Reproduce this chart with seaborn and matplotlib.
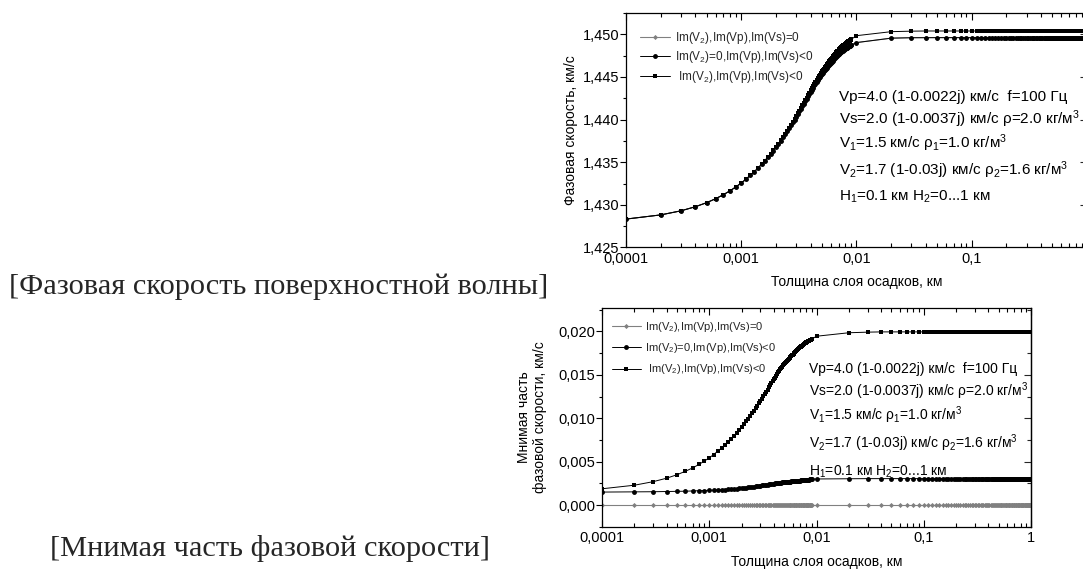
import numpy as np
import matplotlib
matplotlib.use("Agg")
from matplotlib import pyplot as plt
from matplotlib.ticker import FixedLocator, LogLocator, MultipleLocator, NullFormatter
import seaborn as sns

sns.set_style("ticks")
plt.rcParams['font.family'] = ['Liberation Sans', 'DejaVu Sans']
plt.rcParams['mathtext.fontset'] = 'custom'
plt.rcParams['mathtext.rm'] = 'Liberation Sans'
plt.rcParams['mathtext.it'] = 'Liberation Sans:italic'
plt.rcParams['mathtext.default'] = 'regular'
plt.rcParams['axes.edgecolor'] = 'black'
plt.rcParams['axes.linewidth'] = 0.9

# sediment layer thickness, km: fine grid 0.0001..0.009, coarse grid 0.01..1
thickness_fine = np.arange(1, 91) * 1e-4
thickness_coarse = np.arange(1, 101) * 1e-2
thickness = np.concatenate([thickness_fine, thickness_coarse])

# phase velocity, km/s -- Im(V2)=0, Im(Vp),Im(Vs)<0
re_v2_elastic = [
    1.42833, 1.42882, 1.42930, 1.42978, 1.43025, 1.43072, 1.43119, 1.43165, 1.43211, 1.43256,
    1.43301, 1.43346, 1.43389, 1.43432, 1.43474, 1.43516, 1.43557, 1.43597, 1.43637, 1.43676,
    1.43715, 1.43753, 1.43790, 1.43826, 1.43862, 1.43898, 1.43933, 1.43967, 1.44000, 1.44033,
    1.44065, 1.44096, 1.44127, 1.44158, 1.44188, 1.44217, 1.44245, 1.44273, 1.44300, 1.44327,
    1.44352, 1.44376, 1.44400, 1.44422, 1.44443, 1.44463, 1.44482, 1.44500, 1.44518, 1.44534,
    1.44549, 1.44564, 1.44578, 1.44591, 1.44604, 1.44617, 1.44630, 1.44642, 1.44653, 1.44664,
    1.44676, 1.44688, 1.44699, 1.44710, 1.44720, 1.44730, 1.44740, 1.44749, 1.44758, 1.44766,
    1.44774, 1.44781, 1.44789, 1.44795, 1.44802, 1.44808, 1.44814, 1.44820, 1.44825, 1.44830,
    1.44835, 1.44840, 1.44845, 1.44849, 1.44854, 1.44858, 1.44862, 1.44867, 1.44871, 1.44875,
] + [1.44903, 1.44955, 1.44960] + [1.44961] * 97

# phase velocity, km/s -- Im(V2),Im(Vp),Im(Vs)<0
re_all_lossy = [
    1.42833, 1.42882, 1.42930, 1.42978, 1.43025, 1.43072, 1.43119, 1.43165, 1.43211, 1.43256,
    1.43301, 1.43346, 1.43389, 1.43432, 1.43475, 1.43517, 1.43558, 1.43598, 1.43638, 1.43678,
    1.43717, 1.43755, 1.43793, 1.43829, 1.43866, 1.43902, 1.43938, 1.43973, 1.44006, 1.44040,
    1.44073, 1.44104, 1.44136, 1.44168, 1.44199, 1.44229, 1.44258, 1.44287, 1.44316, 1.44344,
    1.44370, 1.44395, 1.44421, 1.44444, 1.44466, 1.44488, 1.44508, 1.44527, 1.44547, 1.44564,
    1.44580, 1.44597, 1.44612, 1.44626, 1.44641, 1.44655, 1.44669, 1.44682, 1.44695, 1.44707,
    1.44720, 1.44733, 1.44745, 1.44757, 1.44768, 1.44779, 1.44790, 1.44800, 1.44810, 1.44819,
    1.44828, 1.44836, 1.44845, 1.44852, 1.44859, 1.44866, 1.44873, 1.44879, 1.44885, 1.44891,
    1.44896, 1.44902, 1.44907, 1.44912, 1.44918, 1.44922, 1.44927, 1.44932, 1.44937, 1.44941,
] + [1.44984, 1.45031, 1.45037] + [1.45039] * 97

# all Im = 0: real part lies under the Im(V2)=0 curve
re_elastic = list(re_v2_elastic)

# imaginary part of phase velocity, km/s
im_all_lossy = [
    0.00187, 0.00228, 0.00269, 0.00309, 0.00349, 0.00389, 0.00428, 0.00467, 0.00506, 0.00544,
    0.00582, 0.00620, 0.00656, 0.00693, 0.00728, 0.00763, 0.00798, 0.00832, 0.00866, 0.00899,
    0.00931, 0.00963, 0.00994, 0.01025, 0.01056, 0.01086, 0.01115, 0.01144, 0.01172, 0.01200,
    0.01227, 0.01253, 0.01279, 0.01305, 0.01331, 0.01355, 0.01378, 0.01402, 0.01425, 0.01448,
    0.01469, 0.01489, 0.01509, 0.01528, 0.01546, 0.01563, 0.01579, 0.01594, 0.01609, 0.01623,
    0.01635, 0.01648, 0.01660, 0.01671, 0.01682, 0.01693, 0.01703, 0.01714, 0.01723, 0.01732,
    0.01743, 0.01753, 0.01762, 0.01771, 0.01780, 0.01788, 0.01796, 0.01804, 0.01811, 0.01818,
    0.01825, 0.01831, 0.01837, 0.01843, 0.01849, 0.01854, 0.01859, 0.01864, 0.01868, 0.01873,
    0.01877, 0.01881, 0.01885, 0.01889, 0.01892, 0.01896, 0.01900, 0.01903, 0.01907, 0.01910,
] + [0.01945, 0.01985, 0.01992] + [0.01995] * 97

im_v2_elastic = [
    0.00149, 0.00151, 0.00153, 0.00155, 0.00157, 0.00159, 0.00162, 0.00164, 0.00166, 0.00168,
    0.00171, 0.00173, 0.00176, 0.00178, 0.00181, 0.00184, 0.00186, 0.00189, 0.00191, 0.00194,
    0.00197, 0.00200, 0.00203, 0.00206, 0.00209, 0.00212, 0.00215, 0.00218, 0.00221, 0.00224,
    0.00226, 0.00229, 0.00231, 0.00234, 0.00236, 0.00238, 0.00241, 0.00243, 0.00245, 0.00247,
    0.00249, 0.00251, 0.00253, 0.00254, 0.00256, 0.00257, 0.00259, 0.00260, 0.00262, 0.00263,
    0.00264, 0.00265, 0.00266, 0.00267, 0.00268, 0.00269, 0.00270, 0.00271, 0.00272, 0.00273,
    0.00274, 0.00275, 0.00276, 0.00277, 0.00278, 0.00278, 0.00279, 0.00280, 0.00281, 0.00282,
    0.00283, 0.00284, 0.00284, 0.00285, 0.00286, 0.00287, 0.00287, 0.00288, 0.00289, 0.00290,
    0.00290, 0.00291, 0.00292, 0.00292, 0.00293, 0.00294, 0.00295, 0.00295, 0.00296, 0.00297,
] + [0.00300, 0.00303] + [0.00304] * 98

im_elastic = [0.0] * 190

LABELS = [
    "Im(V$_2$),Im(Vp),Im(Vs)=0",
    "Im(V$_2$)=0,Im(Vp),Im(Vs)<0",
    " Im(V$_2$),Im(Vp),Im(Vs)<0",
]
x_ticks = [0.0001, 0.001, 0.01, 0.1, 1]
x_ticklabels = ["0,0001", "0,001", "0,01", "0,1", "1"]
re_ticks = [1.425, 1.430, 1.435, 1.440, 1.445, 1.450]
re_ticklabels = ["1,425", "1,430", "1,435", "1,440", "1,445", "1,450"]
im_ticks = [0.000, 0.005, 0.010, 0.015, 0.020]
im_ticklabels = ["0,000", "0,005", "0,010", "0,015", "0,020"]

params_lines = [
    "Vp=4.0 (1-0.0022j) км/с  f=100 Гц",
    "Vs=2.0 (1-0.0037j) км/с ρ=2.0 кг/м$^3$",
    "V$_1$=1.5 км/с ρ$_1$=1.0 кг/м$^3$",
    "V$_2$=1.7 (1-0.03j) км/с ρ$_2$=1.6 кг/м$^3$",
    "H$_1$=0.1 км H$_2$=0...1 км",
]

STYLES = [
    dict(color="#808080", marker="D", markersize=2.6, linewidth=0.8),
    dict(color="black", marker="o", markersize=3.5, linewidth=0.7),
    dict(color="black", marker="s", markersize=3.0, linewidth=0.7),
]


def draw_panel(ax, series, ticks, ticklabels, ylim, ylabel, labelpad,
               text_x, text_ys, text_size, legend_anchor, legend_size, legend_gap):
    for values, label, style in zip(series, LABELS, STYLES):
        sns.lineplot(x=thickness, y=values, ax=ax, label=label,
                     markeredgewidth=0, estimator=None, sort=False, **style)
    ax.set_xscale("log")
    ax.set_xlim(1e-4, 1)
    ax.set_ylim(*ylim)
    ax.xaxis.set_major_locator(FixedLocator(x_ticks))
    ax.set_xticklabels(x_ticklabels)
    ax.xaxis.set_minor_locator(LogLocator(base=10, subs=np.arange(2, 10)))
    ax.xaxis.set_minor_formatter(NullFormatter())
    ax.set_yticks(ticks)
    ax.set_yticklabels(ticklabels)
    ax.yaxis.set_minor_locator(MultipleLocator(0.0025))
    ax.tick_params(axis="x", which="both", direction="in", top=True,
                   labelsize=10.5, pad=3, width=0.8, colors="black")
    ax.tick_params(axis="x", which="major", length=5)
    ax.tick_params(axis="x", which="minor", length=3)
    ax.tick_params(axis="y", which="both", direction="out", right=False,
                   labelsize=10.5, pad=1, width=0.8, colors="black")
    ax.tick_params(axis="y", which="major", length=4)
    ax.tick_params(axis="y", which="minor", length=2.5)
    right = ax.secondary_yaxis("right")
    right.set_yticks(ticks)
    right.yaxis.set_minor_locator(MultipleLocator(0.0025))
    right.tick_params(axis="y", which="both", direction="in", labelright=False, width=0.8)
    right.tick_params(axis="y", which="major", length=5)
    right.tick_params(axis="y", which="minor", length=3)
    ax.set_xlabel("Толщина слоя осадков, км", fontsize=10, color="black", labelpad=7)
    ax.set_ylabel(ylabel, fontsize=10, color="black", labelpad=labelpad)
    for line, ty in zip(params_lines, text_ys):
        ax.text(text_x, ty, line, transform=ax.transAxes, fontsize=text_size,
                ha="left", va="center", color="black")
    ax.legend(loc="upper left", bbox_to_anchor=legend_anchor, frameon=False,
              fontsize=legend_size, handlelength=2.6, handletextpad=0.4,
              labelspacing=legend_gap, borderpad=0, borderaxespad=0, numpoints=1)


fig = plt.figure(figsize=(10.83, 5.75), dpi=100)
ax_re = fig.add_axes([0.578, 0.5696, 0.4257, 0.4078])
ax_im = fig.add_axes([0.5559, 0.0840, 0.3961, 0.3803])

draw_panel(ax_re, [re_elastic, re_v2_elastic, re_all_lossy], re_ticks, re_ticklabels,
           (1.425, 1.4525), "Фазовая скорость, км/с", 3,
           0.463, [0.643, 0.548, 0.446, 0.33, 0.215], 11, (0.03, 0.928), 8.5, 0.3)
draw_panel(ax_im, [im_elastic, im_v2_elastic, im_all_lossy], im_ticks, im_ticklabels,
           (-0.0025, 0.0227), "Мнимая часть\nфазовой скорости, км/с", 8,
           0.4825, [0.721, 0.619, 0.508, 0.38, 0.252], 10, (0.023, 0.945), 8, 0.65)

fig.text(279 / 1083, 1 - 287 / 575, "[Фазовая скорость поверхностной волны]",
         ha="center", va="center", fontsize=21.9, family=["Liberation Serif", "DejaVu Serif"])
fig.text(270 / 1083, 1 - 549 / 575, "[Мнимая часть фазовой скорости]",
         ha="center", va="center", fontsize=21.9, family=["Liberation Serif", "DejaVu Serif"])

fig.savefig("out.png", dpi=100)
